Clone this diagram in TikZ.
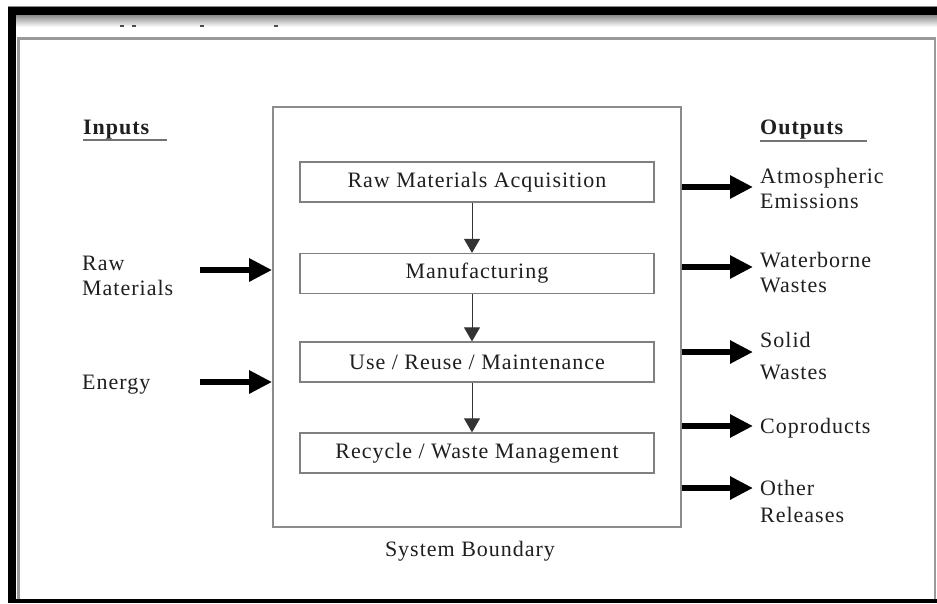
\documentclass[tikz,border=0pt]{standalone}
\usepackage{fontspec}
\setmainfont{Liberation Serif}[LetterSpace=4.5]
\usetikzlibrary{arrows.meta,calc}

\begin{document}
\begin{tikzpicture}[x=1pt,y=-1pt,
  every node/.style={font=\fontsize{22}{25}\selectfont, text=black!88, inner sep=0pt},
  stage/.style={draw=black!50, line width=1.3pt, minimum width=354pt, minimum height=40pt},
  boundary/.style={draw=black!45, line width=1.8pt, minimum width=408pt, minimum height=420pt},
  flow/.style={draw=black!80, line width=1pt, -{Triangle[length=14pt,width=16pt]}},
  io/.style={draw=black, line width=6.5pt, -{Triangle[length=23pt,width=22pt]}},
  lbl/.style={align=left, anchor=west},
  hdr/.style={font=\fontsize{22}{25}\selectfont\bfseries, anchor=west},
  uline/.style={draw=black!55, line width=1.2pt},
  frameline/.style={draw=black!40, line width=2.5pt}]

% page and window frame
\useasboundingbox (0,0) rectangle (937,603);
\fill[white] (0,0) rectangle (937,603);
\shade[top color=black!45, bottom color=white] (16,15) rectangle (937,27);
\draw[black!45, line width=1pt] (8,6.5) -- (937,6.5);
\fill[black] (8,7) rectangle (937,15);
\fill[black] (8,7) rectangle (16,603);
\fill[black] (8,599) rectangle (937,603);
\draw[frameline] (18.5,599) -- (18.5,38.5) -- (935,38.5) -- (935,599);
\foreach \x in {122,134,202,276} \fill[black!70] (\x-2,25) rectangle (\x+2,27);

% life-cycle stages inside the system boundary
\node[boundary] (sys) at (477,317) {};
\node[stage] (s1) at (477,182) {Raw Materials Acquisition};
\node[stage] (s2) at (477,273.5) {Manufacturing};
\node[stage] (s3) at (477,362) {Use / Reuse / Maintenance};
\node[stage] (s4) at (477,453) {Recycle / Waste Management};
\node (sb) at (470,551) {System Boundary};
\foreach \a/\b in {s1/s2,s2/s3,s3/s4}
  \draw[flow] ([xshift=-5pt]\a.south) -- ([xshift=-5pt]\b.north);

% inputs
\node[hdr] (inh) at (83,130) {Inputs};
\draw[uline] (83,140) -- (167,140);
\node[lbl] (raw) at (82,276) {Raw\\Materials};
\node[lbl] (energy) at (82,385) {Energy};
\coordinate (rawtail) at (200,270);
\coordinate (entail) at (200,382);
\draw[io] (rawtail) -- (rawtail -| sys.west);
\draw[io] (entail) -- (entail -| sys.west);

% outputs
\node[hdr] (outh) at (760,130) {Outputs};
\draw[uline] (760,141) -- (867,141);
\coordinate (o1) at (753,187);
\coordinate (o2) at (753,267);
\coordinate (o3) at (753,352);
\coordinate (o4) at (753,426);
\coordinate (o5) at (753,488);
\foreach \o in {o1,o2,o3,o4,o5}
  \draw[io] (sys.east |- \o) -- (\o);
\node[lbl] (atm) at (760,188.5) {Atmospheric\\Emissions};
\node[lbl] (water) at (760,272.5) {Waterborne\\Wastes};
\node[lbl] (solid) at (760,356) {Solid\\[7pt]Wastes};
\node[lbl] (copr) at (760,428) {Coproducts};
\node[lbl] (other) at (760,501.5) {Other\\[2pt]Releases};
\end{tikzpicture}
\end{document}
